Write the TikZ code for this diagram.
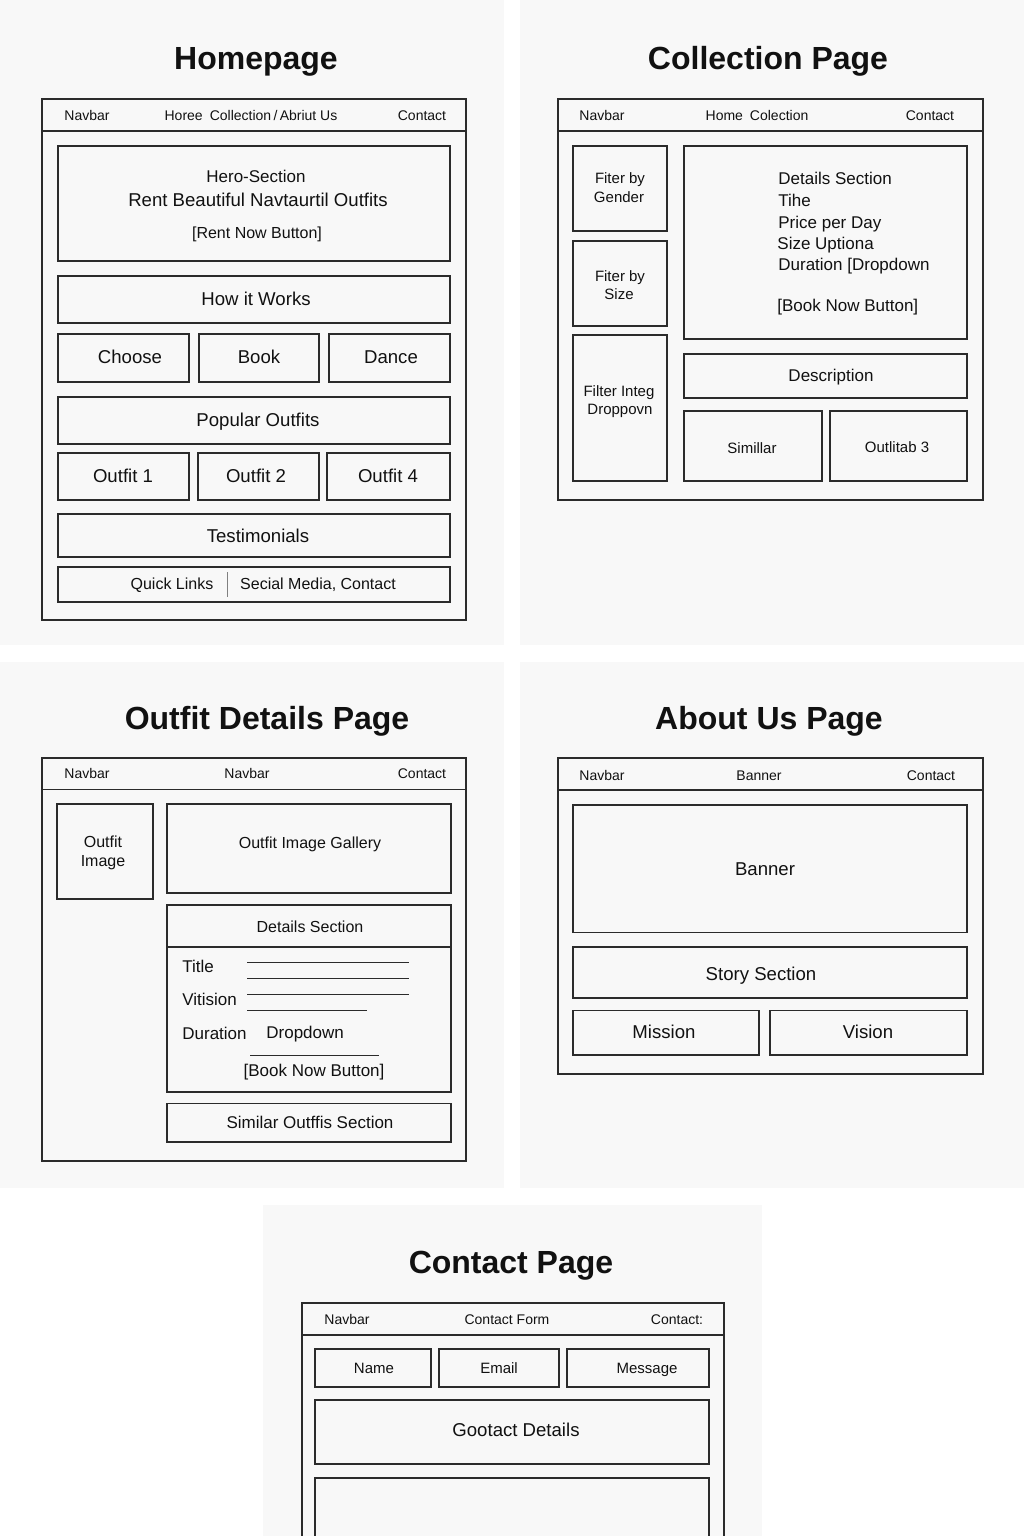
\documentclass[tikz,border=0pt]{standalone}
\usepackage{fontspec}
\setmainfont{Liberation Sans}
\definecolor{panelbg}{HTML}{F8F8F8}
\definecolor{ink}{HTML}{2B2B2B}
\definecolor{txt}{HTML}{111111}
\tikzset{
  frame/.style={draw=ink, line width=0.7pt},
  box/.style={draw=ink, line width=0.55pt},
  rule/.style={draw=ink, line width=0.5pt},
  ttl/.style={text=txt, inner sep=0pt, font=\fontsize{16}{19}\selectfont\bfseries, text height=11.5pt, text depth=0pt},
  szsev/.style={text=txt, inner sep=0pt, font=\fontsize{7}{8}\selectfont, text height=5pt, text depth=0pt},
  szsevh/.style={text=txt, inner sep=0pt, font=\fontsize{7.5}{9}\selectfont, text height=5.4pt, text depth=0pt},
  szeight/.style={text=txt, inner sep=0pt, font=\fontsize{8}{10}\selectfont, text height=5.7pt, text depth=0pt},
  szeighth/.style={text=txt, inner sep=0pt, font=\fontsize{8.5}{10}\selectfont, text height=6.1pt, text depth=0pt},
  sznine/.style={text=txt, inner sep=0pt, font=\fontsize{9.3}{11}\selectfont, text height=6.7pt, text depth=0pt},
}
\begin{document}
\begin{tikzpicture}[x=0.5pt,y=-0.5pt]
\useasboundingbox (0,0) rectangle (1024,1536);
\clip (0,0) rectangle (1024,1536);
\fill[white] (0,0) rectangle (1024,1536);
% sheet backgrounds
\fill[panelbg] (0,0) rectangle (504,645);
\fill[panelbg] (520,0) rectangle (1024,645);
\fill[panelbg] (0,662) rectangle (504,1188);
\fill[panelbg] (520,662) rectangle (1024,1188);
\fill[panelbg] (263,1205) rectangle (762,1536);

% ================= Homepage =================
\node[ttl] (hpT) at (256,58) {Homepage};
\draw[frame] (42,99) rectangle (466,620);
\draw[frame] (42,131) -- (466,131);
\node[szsev] (hpN1) at (87,115) {Navbar};
\node[szsev] (hpN2) at (251,115) {Horee\enspace Collection\,/\,Abriut Us};
\node[szsev] (hpN3) at (422,115) {Contact};

\draw[box] (58,146) rectangle (450,261);
\node[szeighth] (hpH1) at (256,176) {Hero-Section};
\node[sznine] (hpH2) at (258,200) {Rent Beautiful Navtaurtil Outfits};
\node[szeight] (hpH3) at (257,233) {[Rent Now Button]};

\draw[box] (58,276) rectangle (450,323);
\node[sznine] (hpHow) at (256,299) {How it Works};

\draw[box] (58,334) rectangle (189,382);
\draw[box] (199,334) rectangle (319,382);
\draw[box] (329,334) rectangle (450,382);
\node[sznine] (hpC1) at (130,357) {Choose};
\node[sznine] (hpC2) at (259,357) {Book};
\node[sznine] (hpC3) at (391,357) {Dance};

\draw[box] (58,397) rectangle (450,444);
\node[sznine] (hpPop) at (258,420) {Popular Outfits};

\draw[box] (58,453) rectangle (189,500);
\draw[box] (198,453) rectangle (319,500);
\draw[box] (327,453) rectangle (450,500);
\node[sznine] (hpO1) at (123,476) {Outfit 1};
\node[sznine] (hpO2) at (256,476) {Outfit 2};
\node[sznine] (hpO4) at (388,476) {Outfit 4};

\draw[box] (58,514) rectangle (450,557);
\node[sznine] (hpTest) at (258,536) {Testimonials};

\draw[box] (58,567) rectangle (450,602);
\draw[rule, draw=gray] (227,572) -- (227,597);
\node[szeight] (hpF1) at (172,584) {Quick Links};
\node[szeight] (hpF2) at (318,584) {Secial Media, Contact};

% ================= Collection Page =================
\node[ttl] (cpT) at (768,58) {Collection Page};
\draw[frame] (558,99) rectangle (983,500);
\draw[frame] (558,131) -- (983,131);
\node[szsev] (cpN1) at (602,115) {Navbar};
\node[szsev] (cpN2) at (757,115) {Home\enspace Colection};
\node[szsev] (cpN3) at (930,115) {Contact};

\draw[box] (573,146) rectangle (667,231);
\node[szsevh] (cpG1) at (620,178) {Fiter by};
\node[szsevh] (cpG2) at (619,197) {Gender};
\draw[box] (573,241) rectangle (667,326);
\node[szsevh] (cpS1) at (620,276) {Fiter by};
\node[szsevh] (cpS2) at (619,294) {Size};
\draw[box] (573,335) rectangle (667,481);
\node[szsevh] (cpI1) at (619,391) {Filter Integ};
\node[szsevh] (cpI2) at (620,409) {Droppovn};

\draw[box] (684,146) rectangle (967,339);
\node[szeighth, anchor=west] (cpD1) at (778,178) {Details Section};
\node[szeighth, anchor=west] (cpD2) at (778,200) {Tihe};
\node[szeighth, anchor=west] (cpD3) at (778,222) {Price per Day};
\node[szeighth, anchor=west] (cpD4) at (777,243) {Size Uptiona};
\node[szeighth, anchor=west] (cpD5) at (778,264) {Duration [Dropdown};
\node[szeighth, anchor=west] (cpD6) at (777,305) {[Book Now Button]};

\draw[box] (684,354) rectangle (967,398);
\node[szeighth] (cpDesc) at (831,375) {Description};

\draw[box] (684,411) rectangle (822,481);
\node[szsevh] (cpSim) at (752,448) {Simillar};
\draw[box] (830,411) rectangle (967,481);
\node[szsevh] (cpOut) at (897,447) {Outlitab 3};

% ================= Outfit Details Page =================
\node[ttl] (odT) at (267,718) {Outfit Details Page};
\draw[frame] (42,758) rectangle (466,1161);
\draw[frame] (42,789.5) -- (466,789.5);
\node[szsev] (odN1) at (87,773) {Navbar};
\node[szsev] (odN2) at (247,773) {Navbar};
\node[szsev] (odN3) at (422,773) {Contact};

\draw[box] (57,804) rectangle (153,899);
\node[szeight] (odI1) at (103,842) {Outfit};
\node[szeight] (odI2) at (103,861) {Image};

\draw[box] (167,804) rectangle (451,893);
\node[szeight] (odGal) at (310,843) {Outfit Image Gallery};

\draw[box] (167,905) rectangle (451,1092);
\draw[box] (167,947) -- (451,947);
\node[szeight] (odDS) at (310,927) {Details Section};
\node[szeighth, anchor=west] (odTi) at (182,966) {Title};
\node[szeighth, anchor=west] (odVi) at (182,999) {Vitision};
\node[szeighth, anchor=west] (odDu) at (182,1033) {Duration};
\node[szeighth, anchor=west] (odDr) at (266,1032) {Dropdown};
\draw[rule] (247,962) -- (409,962);
\draw[rule] (247,978) -- (409,978);
\draw[rule] (247,994) -- (409,994);
\draw[rule] (247,1010) -- (367,1010);
\draw[rule] (250,1055) -- (379,1055);
\node[szeighth] (odBk) at (314,1070) {[Book Now Button]};

\draw[box] (167,1103.5) rectangle (451,1142);
\node[szeighth] (odSim) at (310,1122) {Similar Outffis Section};

% ================= About Us Page =================
\node[ttl] (auT) at (769,718) {About Us Page};
\draw[frame] (558,758) rectangle (983,1074);
\draw[frame] (558,790) -- (983,790);
\node[szsev] (auN1) at (602,775) {Navbar};
\node[szsev] (auN2) at (759,775) {Banner};
\node[szsev] (auN3) at (931,775) {Contact};

\draw[box] (573,805) rectangle (967,932.5);
\node[sznine] (auBan) at (765,868.5) {Banner};
\draw[box] (573,947) rectangle (967,998);
\node[sznine] (auSt) at (761,973.5) {Story Section};
\draw[box] (573,1010.5) rectangle (759,1055);
\node[sznine] (auMi) at (664,1032) {Mission};
\draw[box] (770,1010.5) rectangle (967,1055);
\node[sznine] (auVi) at (868,1032) {Vision};

% ================= Contact Page =================
\node[ttl] (ctT) at (511,1262) {Contact Page};
\draw[frame] (302,1303) rectangle (724,1580);
\draw[frame] (302,1335) -- (724,1335);
\node[szsev] (ctN1) at (347,1319) {Navbar};
\node[szsev] (ctN2) at (507,1319) {Contact Form};
\node[szsev] (ctN3) at (677,1319) {Contact:};

\draw[box] (315,1349) rectangle (431,1387);
\node[szsevh] (ctNa) at (374,1368) {Name};
\draw[box] (439,1349) rectangle (559,1387);
\node[szsevh] (ctEm) at (499,1368) {Email};
\draw[box] (567,1349) rectangle (709,1387);
\node[szsevh] (ctMe) at (647,1368) {Message};

\draw[box] (315,1400) rectangle (709,1464);
\node[sznine] (ctGo) at (516,1430) {Gootact Details};
\draw[box] (315,1478) rectangle (709,1570);
\end{tikzpicture}
\end{document}
